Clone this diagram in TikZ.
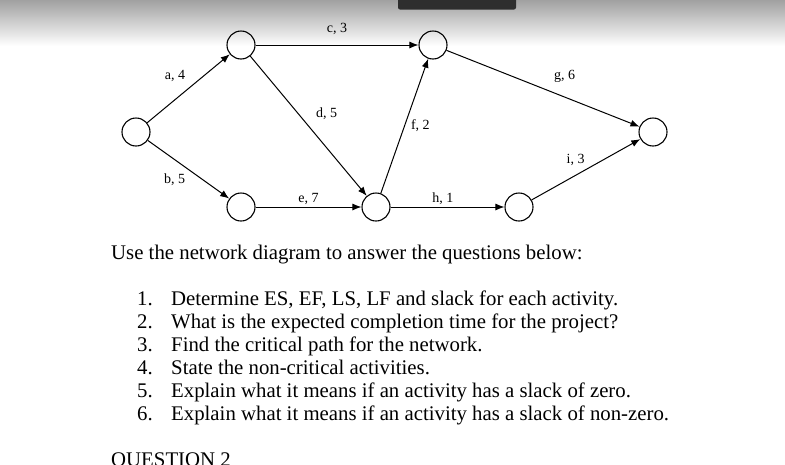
\documentclass[tikz,border=0pt]{standalone}
\usepackage{fontspec}
\setmainfont{Liberation Serif}
\usetikzlibrary{arrows.meta}
\usetikzlibrary{positioning}

\begin{document}
\begin{tikzpicture}[x=1pt, y=-1pt,
  event/.style={draw, circle, line width=1.1pt, minimum size=28pt, inner sep=0pt},
  act/.style={draw, line width=1pt, -{Latex[length=9pt, width=7pt]}},
  lbl/.style={font=\fontsize{14}{16}\selectfont, inner sep=1pt},
  qtext/.style={font=\fontsize{20.8}{23}\selectfont, inner sep=0pt, anchor=base west}]

\useasboundingbox (0,0) rectangle (785,464);
\shade[top color=black!37, bottom color=white] (0,0) rectangle (785,46);
\fill[black!82, rounded corners=2pt] (398,-5) rectangle (516,9.5);

\node[event] (n1) at (136,132) {};
\node[event] (n2) at (241,45) {};
\node[event] (n3) at (241,207) {};
\node[event] (n4) at (433,45) {};
\node[event] (n5) at (376,207) {};
\node[event] (n6) at (519,207) {};
\node[event] (n7) at (653,132) {};

\draw[act] (n1) -- node[lbl, midway, above left=5pt and 2pt] {a, 4} (n2);
\draw[act] (n1) -- node[lbl, midway, below left=3pt and 2pt] {b, 5} (n3);
\draw[act] (n2) -- node[lbl, midway, above=9pt] {c, 3} (n4);
\draw[act] (n2) -- node[lbl, midway, above right=5pt and 6pt] {d, 5} (n5);
\draw[act] (n3) -- node[lbl, midway, above=1pt] {e, 7} (n5);
\draw[act] (n5) -- node[lbl, midway, right=5pt] {f, 2} (n4);
\draw[act] (n4) -- node[lbl, pos=0.55, above right=8pt and 0pt] {g, 6} (n7);
\draw[act] (n5) -- node[lbl, pos=0.46, above=1pt] {h, 1} (n6);
\draw[act] (n6) -- node[lbl, midway, above left=2pt and 0pt] {i, 3} (n7);

\node[qtext] (intro) at (111,259) {Use the network diagram to answer the questions below:};
\node[qtext] (q1) at (137,305) {1.};
\node[qtext] (t1) at (171,305) {Determine ES, EF, LS, LF and slack for each activity.};
\node[qtext] (q2) at (137,328) {2.};
\node[qtext] (t2) at (171,328) {What is the expected completion time for the project?};
\node[qtext] (q3) at (137,351) {3.};
\node[qtext] (t3) at (171,351) {Find the critical path for the network.};
\node[qtext] (q4) at (137,374) {4.};
\node[qtext] (t4) at (171,374) {State the non-critical activities.};
\node[qtext] (q5) at (137,397) {5.};
\node[qtext] (t5) at (171,397) {Explain what it means if an activity has a slack of zero.};
\node[qtext] (q6) at (137,420) {6.};
\node[qtext] (t6) at (171,420) {Explain what it means if an activity has a slack of non-zero.};
\node[qtext] (head) at (111,466) {QUESTION 2};
\end{tikzpicture}
\end{document}
